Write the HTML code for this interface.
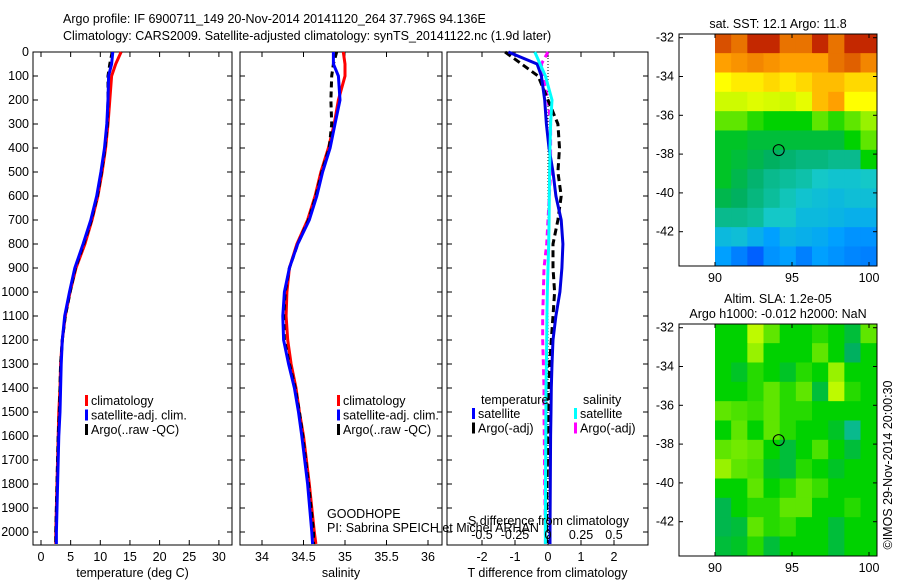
<!DOCTYPE html>
<html><head><meta charset="utf-8"><style>
body{margin:0;background:#fff;}
svg{display:block;font-family:"Liberation Sans",sans-serif;}
text{font-size:12.5px;fill:#000;}
</style></head><body>
<svg id="fig" width="900" height="580" viewBox="0 0 900 580">
<text x="63" y="23">Argo profile: IF 6900711_149 20-Nov-2014 20141120_264 37.796S 94.136E</text>
<text x="63" y="40">Climatology: CARS2009. Satellite-adjusted climatology: synTS_20141122.nc (1.9d later)</text>
</svg>
<script>
const depths=[0,50,100,200,300,400,500,600,700,800,900,1000,1100,1200,1300,1400,1500,1600,1800,2000,2050];
const tempClim=[13.5,12.6,11.9,11.6,11.3,10.9,10.3,9.6,8.6,7.4,5.9,4.9,4.1,3.6,3.3,3.2,3.0,2.9,2.7,2.5,2.5];
const tempSat=[12.1,11.9,11.4,11.3,11.1,10.7,10.1,9.4,8.4,7.1,5.7,4.8,4.0,3.6,3.4,3.3,3.2,3.0,2.8,2.6,2.6];
const tempArgo=[12.0,11.6,11.3,11.3,11.2,10.8,10.2,9.5,8.5,7.2,5.8,4.9,4.1,3.6,3.3,3.2,3.1,2.9,2.7,2.5,2.5];
const salClim=[34.98,35.0,35.0,34.92,34.87,34.8,34.71,34.64,34.55,34.42,34.33,34.3,34.29,34.31,34.35,34.41,34.45,34.5,34.57,34.63,34.65];
const salSat=[34.86,34.86,34.92,34.94,34.88,34.82,34.73,34.66,34.57,34.43,34.33,34.27,34.25,34.26,34.32,34.39,34.44,34.48,34.55,34.6,34.61];
const salArgo=[34.9,34.86,34.84,34.83,34.84,34.81,34.72,34.65,34.56,34.43,34.33,34.28,34.26,34.27,34.33,34.4,34.45,34.49,34.56,34.62,34.62];
const tdiffSat=[-1.2,-0.33,-0.2,-0.1,-0.05,0.03,0.15,0.24,0.4,0.45,0.42,0.36,0.24,0.15,0.12,0.1,0.09,0.08,0.07,0.06,0.06];
const tdiffArgo=[-1.3,-0.8,-0.3,0.0,0.3,0.35,0.3,0.4,0.3,0.15,0.15,0.2,0.15,0.1,0.05,0.03,0.02,0.0,-0.03,-0.05,-0.05];
const sdiffSat=[-0.1,-0.06,-0.02,0.03,0.02,0.015,0.012,0.01,0.008,0.005,0.0,-0.005,-0.008,-0.01,-0.012,-0.015,-0.016,-0.017,-0.019,-0.02,-0.02];
const sdiffArgo=[0.0,-0.05,-0.04,0.0,0.02,0.02,0.02,0.01,0.0,-0.01,-0.03,-0.035,-0.04,-0.04,-0.035,-0.03,-0.03,-0.028,-0.025,-0.02,-0.02];
const depthTicks=[0,100,200,300,400,500,600,700,800,900,1000,1100,1200,1300,1400,1500,1600,1700,1800,1900,2000];
const tempTicks=[0,5,10,15,20,25,30];
const salTicks=[34,34.5,35,35.5,36];
const tdTicks=[-2,-1,0,1,2];
const sdTicks=[-0.5,-0.25,0,0.25,0.5];
const latTicks=[-32,-34,-36,-38,-40,-42];
const lonTicks=[90,95,100];
const sstGrid=[
[0.9,0.85,0.95,0.95,0.85,0.85,0.95,0.85,0.95,0.95],
[0.78,0.8,0.82,0.8,0.78,0.78,0.78,0.85,0.88,0.82],
[0.68,0.7,0.7,0.72,0.7,0.72,0.75,0.75,0.72,0.72],
[0.62,0.62,0.64,0.63,0.62,0.65,0.75,0.78,0.68,0.68],
[0.55,0.55,0.52,0.5,0.5,0.5,0.55,0.52,0.55,0.58],
[0.48,0.48,0.47,0.47,0.47,0.47,0.47,0.47,0.5,0.55],
[0.48,0.47,0.46,0.45,0.44,0.43,0.43,0.42,0.42,0.5],
[0.48,0.46,0.44,0.42,0.41,0.4,0.38,0.37,0.37,0.38],
[0.46,0.45,0.43,0.41,0.39,0.37,0.36,0.35,0.36,0.36],
[0.42,0.42,0.41,0.38,0.38,0.35,0.35,0.34,0.33,0.33],
[0.35,0.36,0.33,0.3,0.34,0.33,0.32,0.3,0.28,0.28],
[0.3,0.25,0.2,0.28,0.3,0.25,0.3,0.28,0.26,0.25]];
const slaGrid=[
[0.5,0.5,0.6,0.55,0.5,0.5,0.52,0.5,0.47,0.55],
[0.5,0.5,0.58,0.5,0.5,0.5,0.55,0.5,0.45,0.5],
[0.5,0.48,0.52,0.5,0.48,0.52,0.5,0.58,0.5,0.5],
[0.5,0.5,0.52,0.55,0.52,0.55,0.47,0.6,0.52,0.5],
[0.55,0.54,0.53,0.55,0.52,0.52,0.5,0.5,0.5,0.5],
[0.5,0.55,0.5,0.55,0.52,0.5,0.5,0.48,0.42,0.5],
[0.55,0.56,0.55,0.5,0.47,0.5,0.54,0.5,0.47,0.5],
[0.58,0.55,0.54,0.48,0.47,0.52,0.5,0.48,0.5,0.5],
[0.5,0.5,0.55,0.5,0.52,0.55,0.53,0.5,0.5,0.5],
[0.46,0.5,0.52,0.52,0.55,0.55,0.5,0.5,0.52,0.5],
[0.46,0.47,0.55,0.52,0.53,0.5,0.5,0.47,0.5,0.5],
[0.47,0.48,0.52,0.47,0.5,0.5,0.5,0.47,0.5,0.5]];
const argoLon=94.136, argoLat=-37.796;

const svg=document.getElementById('fig');
const NS='http://www.w3.org/2000/svg';
function mk(tag,attrs,parent){const e=document.createElementNS(NS,tag);for(const k in attrs)e.setAttribute(k,attrs[k]);(parent||svg).appendChild(e);return e;}
function txt(x,y,s,anchor,parent){const t=mk('text',{x:x,y:y,'text-anchor':anchor||'start'},parent);t.textContent=s;return t;}
const yD=d=>52+d*0.24;
const TOP=52,BOT=545;
function panel(name,x0,x1,xf,ticks,labelFmt,xlabel,showY){
  const g=mk('g',{});
  
  
  const r=mk('rect',{x:x0,y:TOP,width:x1-x0,height:BOT-TOP,fill:'none',stroke:'#000','stroke-width':1},g);
  
  depthTicks.forEach(d=>{mk('line',{x1:x0,x2:x0+5,y1:yD(d),y2:yD(d),stroke:'#000'},g);mk('line',{x1:x1,x2:x1-5,y1:yD(d),y2:yD(d),stroke:'#000'},g);
    if(showY){const t=txt(x0-4,yD(d)+4,String(d),'end',g);}});
  ticks.forEach(v=>{const x=xf(v);mk('line',{x1:x,x2:x,y1:BOT,y2:BOT-5,stroke:'#000'},g);mk('line',{x1:x,x2:x,y1:TOP,y2:TOP+5,stroke:'#000'},g);
    const t=txt(x,561,labelFmt(v),'middle',g);});
  const xl=txt((x0+x1)/2,577,xlabel,'middle',g);
  return g;
}
function series(name,vals,xf,color,dash,w,parent){
  const pts=vals.map((v,i)=>xf(v).toFixed(1)+','+yD(depths[i]).toFixed(1)).join(' ');
  const p=mk('polyline',{points:pts,fill:'none',stroke:color,'stroke-width':w||3,'stroke-dasharray':dash||'none'},parent);
  
}
function legend(x,y,items,parent){
  items.forEach((it,i)=>{const yy=y+i*14.5;
    const b=mk('rect',{x:x,y:yy-10,width:3,height:11,fill:it[1]},parent);
    
    const t=txt(x+6,yy,it[0],'start',parent);});
}
const xT=v=>41+v*5.93;
const g1=panel('temperature-panel',33,232,xT,tempTicks,String,'temperature (deg C)',true);
series('temp-climatology-line',tempClim,xT,'#f00',null,3,g1);
series('temp-argo-line',tempArgo,xT,'#000','6,4',3,g1);
series('temp-satellite-line',tempSat,xT,'#00f',null,3,g1);
legend(85,405,[['climatology','#f00'],['satellite-adj. clim.','#00f'],['Argo(..raw -QC)','#000']],g1);
const xS=v=>262+(v-34)*83;
const g2=panel('salinity-panel',240,442,xS,salTicks,String,'salinity',false);
series('sal-climatology-line',salClim,xS,'#f00',null,3,g2);
series('sal-argo-line',salArgo,xS,'#000','6,4',3,g2);
series('sal-satellite-line',salSat,xS,'#00f',null,3,g2);
legend(337,405,[['climatology','#f00'],['satellite-adj. clim.','#00f'],['Argo(..raw -QC)','#000']],g2);
txt(327,518,'GOODHOPE','start',g2);
txt(327,532,'PI: Sabrina SPEICH et Michel ARHAN','start',g2);
const xTD=v=>548+v*33;
const xSD=v=>548+v*132;
const g3=panel('difference-panel',447,648,xTD,tdTicks,String,'T difference from climatology',false);
mk('line',{x1:548,x2:548,y1:TOP,y2:BOT,stroke:'#000','stroke-dasharray':'1,2'},g3);
series('sdiff-argo-line',sdiffArgo,xSD,'#f0f','6,4',3,g3);
series('tdiff-argo-line',tdiffArgo,xTD,'#000','7,4',3,g3);
series('tdiff-satellite-line',tdiffSat,xTD,'#0000e0',null,3,g3);
series('sdiff-satellite-line',sdiffSat,xSD,'#0ff',null,3,g3);
txt(481,404,'temperature','start',g3);
txt(583,404,'salinity','start',g3);
legend(472,418,[['satellite','#00f'],['Argo(-adj)','#000']],g3);
legend(574,418,[['satellite','#0ff'],['Argo(-adj)','#f0f']],g3);
txt(468,525,'S difference from climatology','start',g3);
sdTicks.forEach(v=>{const t=txt(xSD(v),539,String(v),'middle',g3);});
const stops=[[0,[0,0,140]],[0.15,[0,64,255]],[0.3,[0,160,255]],[0.38,[20,200,200]],[0.45,[0,176,96]],[0.5,[0,210,0]],[0.6,[190,250,0]],[0.68,[255,255,0]],[0.78,[255,160,0]],[0.88,[224,96,0]],[1,[176,0,0]]];
function cmap(v){v=Math.max(0,Math.min(1,v));for(let i=1;i<stops.length;i++){if(v<=stops[i][0]){const a=stops[i-1],b=stops[i],f=(v-a[0])/(b[0]-a[0]);const c=a[1].map((x,k)=>Math.round(x+(b[1][k]-x)*f));return 'rgb('+c.join(',')+')';}}return 'rgb(176,0,0)';}
function map(name,top,bot,grid,title){
  const g=mk('g',{});
  const X0=679,X1=877;
  const xL=v=>715+(v-90)*15.4;
  const yL=v=>top+3.7+(-32-v)*19.4;
  const rows=grid.length,cols=grid[0].length;
  const latTop=-31.8, latBot=latTop-(bot-top)/19.4;
  for(let r=0;r<rows;r++)for(let c=0;c<cols;c++){
    const lat0=latTop-r*(latTop-latBot)/rows, lat1=latTop-(r+1)*(latTop-latBot)/rows;
    const lon0=90+c*10.5/cols, lon1=90+(c+1)*10.5/cols;
    const x=xL(lon0),y=Math.max(top,yL(lat0));
    const cell=mk('rect',{x:x,y:y,width:Math.min(X1,xL(lon1))-x+0.5,height:yL(lat1)-y+0.5,fill:cmap(grid[r][c])},g);
    
  }
  mk('rect',{x:X0,y:top,width:X1-X0,height:bot-top,fill:'none',stroke:'#000'},g);
  latTicks.forEach(v=>{const y=yL(v);mk('line',{x1:X0,x2:X0+4,y1:y,y2:y,stroke:'#000'},g);mk('line',{x1:X1,x2:X1-4,y1:y,y2:y,stroke:'#000'},g);
    const t=txt(674,y+4,String(v),'end',g);});
  lonTicks.forEach(v=>{const x=xL(v);mk('line',{x1:x,x2:x,y1:bot,y2:bot-4,stroke:'#000'},g);mk('line',{x1:x,x2:x,y1:top,y2:top+4,stroke:'#000'},g);
    const t=txt(x,bot+16,String(v),'middle',g);});
  const m=mk('circle',{cx:xL(argoLon),cy:yL(argoLat),r:5.5,fill:'none',stroke:'#000','stroke-width':1},g);
  
  title.forEach((s,i)=>{const t=txt(778,top-6-(title.length-1-i)*15,s,'middle',g);});
}
map('sst-map',34,266,sstGrid,['sat. SST: 12.1 Argo: 11.8']);
map('sla-map',324,556,slaGrid,['Altim. SLA: 1.2e-05','Argo h1000: -0.012 h2000: NaN']);
const cr=txt(0,0,'©IMOS 29-Nov-2014 20:00:30','middle');
cr.setAttribute('transform','translate(892,465) rotate(-90)');


</script>
</body></html>
